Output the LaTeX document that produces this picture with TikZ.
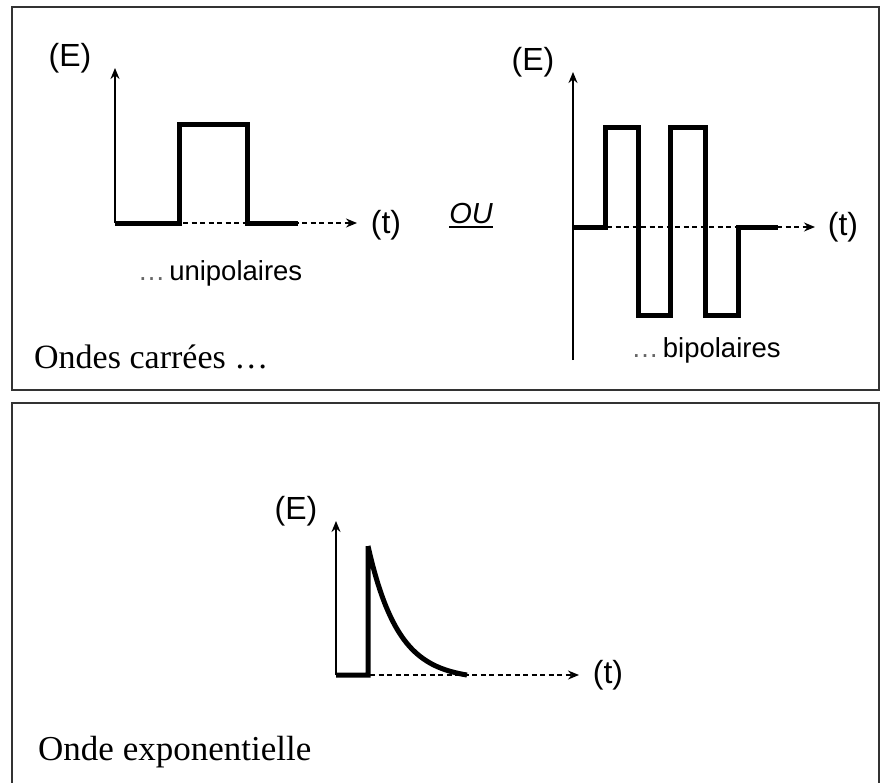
\documentclass[tikz,border=0pt]{standalone}
\usepackage{fontspec}
\setmainfont{Liberation Serif}
\setsansfont{Liberation Sans}
\usetikzlibrary{arrows.meta}
\begin{document}
\begin{tikzpicture}[x=1pt,y=-1pt,
  frame/.style={draw=black!80,line width=1.8pt},
  axisline/.style={line width=1.6pt},
  tarrow/.style={line width=1.6pt,-{Stealth[length=11pt,width=9pt]}},
  dashaxis/.style={line width=1.6pt,dash pattern=on 5pt off 3.5pt,-{Stealth[length=11pt,width=9pt]}},
  wave/.style={line width=5pt,line join=miter,line cap=butt},
  lbl/.style={inner sep=0pt,font=\sffamily\fontsize{32}{36}\selectfont},
  sub/.style={inner sep=0pt,anchor=base,font=\sffamily\fontsize{27.5}{30}\selectfont},
  title/.style={inner sep=0pt,anchor=base west,font=\rmfamily\fontsize{34}{38}\selectfont}]
\useasboundingbox (0,0) rectangle (881,782);
\fill[white] (0,0) rectangle (881,782);
% frames
\draw[frame] (12,7) rectangle (879,390);
\draw[frame] (12,403) rectangle (879,790);

% ---------- unipolar ----------
\coordinate (u0) at (115,223);
\coordinate (uy) at (115,68);
\coordinate (ux) at (357,223);
\draw[tarrow] (u0) -- (uy);
\draw[dashaxis] (u0) -- (ux);
\draw[wave] (u0) -- (179,223) -- (179,124) -- (247,124) -- (247,223) -- (298,223);
\node[lbl] (uE) at (70,58) {(E)};
\node[lbl] (ut) at (386,225) {(t)};
\node[sub] (uni) at (220,280) {{\color{black!60}…}\hspace{4pt}unipolaires};

% ---------- OU ----------
\node[inner sep=0pt,anchor=base,font=\sffamily\itshape\fontsize{29}{32}\selectfont] (ou) at (471,223) {OU};
\draw[line width=1.6pt] ([yshift=-4pt]ou.base west) -- ([yshift=-4pt]ou.base east);

% ---------- bipolar ----------
\coordinate (b0) at (573,227);
\coordinate (bbot) at (573,360);
\coordinate (by) at (573,72);
\coordinate (bx) at (815,227);
\draw[tarrow] (bbot) -- (by);
\draw[dashaxis] (b0) -- (bx);
\draw[wave] (b0) -- (605,227) -- (605,127) -- (638,127) -- (638,315) -- (670,315)
  -- (670,127) -- (705,127) -- (705,315) -- (738,315) -- (738,227) -- (778,227);
\node[lbl] (bE) at (533,62) {(E)};
\node[lbl] (bt) at (843,227) {(t)};
\node[sub] (bip) at (706,357) {{\color{black!60}…}\hspace{4pt}bipolaires};

\node[title] (t1) at (34,368) {Ondes carrées …};

% ---------- exponential ----------
\coordinate (e0) at (336,675);
\coordinate (ey) at (336,521);
\coordinate (ex) at (579,675);
\draw[tarrow] (e0) -- (ey);
\draw[dashaxis] (e0) -- (ex);
\draw[wave] (e0) -- (368,675) -- (368,546)
  plot[domain=0:99,samples=60,smooth] ({368+\x},{675-129*(exp(-\x/30)-0.0369)/0.9631});
\node[lbl] (eE) at (296,511) {(E)};
\node[lbl] (et) at (608,675) {(t)};

\node[title,font=\rmfamily\fontsize{35}{38}\selectfont] (t2) at (38,760) {Onde exponentielle};
\end{tikzpicture}
\end{document}
